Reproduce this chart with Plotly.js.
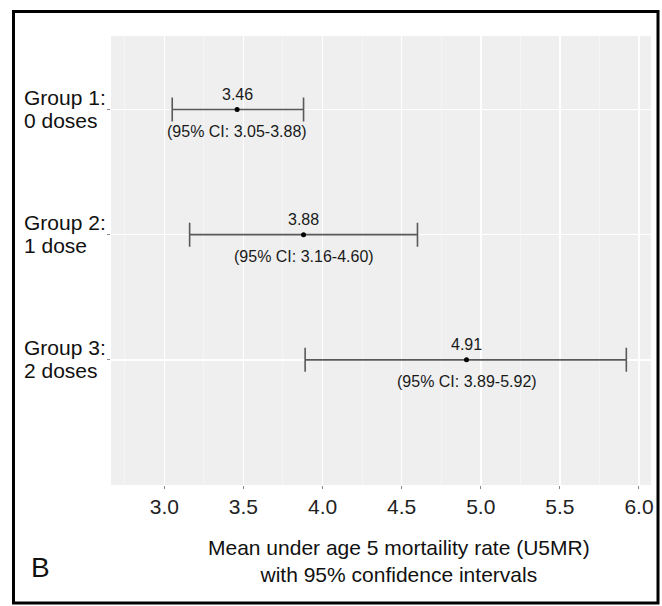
<!DOCTYPE html>
<html>
<head>
<meta charset="utf-8">
<script src="https://cdn.plot.ly/plotly-3.0.1.min.js"></script>
<style>html,body{margin:0;padding:0;background:#fff;}#chart{width:662px;height:606px;}</style>
</head>
<body>
<div id="chart"></div>
<script>
// ---- data ----
const groupLabels = ["Group 1:\n0 doses", "Group 2:\n1 dose", "Group 3:\n2 doses"];
const groupPos = [3, 2, 1];
const means = [3.46, 3.88, 4.91];
const ciLow = [3.05, 3.16, 3.89];
const ciHigh = [3.88, 4.60, 5.92];
const xTicks = [3.0, 3.5, 4.0, 4.5, 5.0, 5.5, 6.0];
const xTickText = ["3.0", "3.5", "4.0", "4.5", "5.0", "5.5", "6.0"];
const axisTitle = "Mean under age 5 mortaility rate (U5MR)<br>with 95% confidence intervals";
const panelLetter = "B";

// ---- layout geometry ----
const W = 662, H = 606;
const M = {l: 111, r: 11, t: 36, b: 121};
const PW = W - M.l - M.r, PH = H - M.t - M.b;
const px = v => (v - M.l) / PW;
const py = v => (H - M.b - v) / PH;
const FONT = "Liberation Sans, Arial, sans-serif";

const trace = {
  type: "scatter",
  mode: "markers",
  x: means,
  y: groupPos,
  marker: {color: "#000", size: 5},
  error_x: {
    type: "data",
    symmetric: false,
    array: means.map((m, i) => ciHigh[i] - m),
    arrayminus: means.map((m, i) => m - ciLow[i]),
    color: "#595959",
    thickness: 1.6,
    width: 12
  },
  hoverinfo: "x+y",
  showlegend: false
};

const annotations = [];
means.forEach((m, i) => {
  annotations.push({x: m, y: groupPos[i], xref: "x", yref: "y", text: m.toFixed(2),
    showarrow: false, yshift: 15, font: {family: FONT, size: 16, color: "#1a1a1a"}});
  annotations.push({x: m, y: groupPos[i], xref: "x", yref: "y",
    text: "(95% CI: " + ciLow[i].toFixed(2) + "-" + ciHigh[i].toFixed(2) + ")",
    showarrow: false, yshift: -22, font: {family: FONT, size: 16, color: "#1a1a1a"}});
  const lines = groupLabels[i].split("\n");
  annotations.push({x: px(22), y: groupPos[i], xref: "paper", yref: "y", text: lines[0],
    showarrow: false, xanchor: "left", yanchor: "middle", yshift: 12,
    font: {family: FONT, size: 21, color: "#111"}});
  annotations.push({x: px(22), y: groupPos[i], xref: "paper", yref: "y", text: lines[1],
    showarrow: false, xanchor: "left", yanchor: "middle", yshift: -11,
    font: {family: FONT, size: 21, color: "#111"}});
});
annotations.push({x: px(399), y: py(561), xref: "paper", yref: "paper", text: axisTitle,
  showarrow: false, xanchor: "center", yanchor: "middle", align: "center",
  font: {family: FONT, size: 21, color: "#111"}});
annotations.push({x: px(29), y: py(567), xref: "paper", yref: "paper", text: panelLetter,
  showarrow: false, xanchor: "left", yanchor: "middle",
  font: {family: FONT, size: 28, color: "#111"}});

const layout = {
  width: W, height: H,
  margin: M,
  paper_bgcolor: "#fff",
  plot_bgcolor: "#efefef",
  font: {family: FONT},
  xaxis: {
    range: [2.663, 6.076],
    tickmode: "array", tickvals: xTicks, ticktext: xTickText,
    ticks: "outside", ticklen: 3, tickwidth: 1, tickcolor: "#888",
    tickfont: {family: FONT, size: 21, color: "#222"},
    showgrid: true, gridcolor: "#ffffff", gridwidth: 1.5,
    minor: {dtick: 0.5, tick0: 2.75, showgrid: true, gridcolor: "#f6f6f6", gridwidth: 0.8, ticks: ""},
    zeroline: false, showline: false, fixedrange: true
  },
  yaxis: {
    range: [0, 3.587],
    tickmode: "array", tickvals: groupPos, ticktext: ["", "", ""],
    showticklabels: false,
    ticks: "outside", ticklen: 3, tickwidth: 1, tickcolor: "#888",
    showgrid: true, gridcolor: "#ffffff", gridwidth: 1.5,
    zeroline: false, showline: false, fixedrange: true
  },
  annotations: annotations,
  shapes: [{type: "rect", xref: "paper", yref: "paper",
    x0: px(13.5), x1: px(658), y0: py(603), y1: py(11.5),
    line: {color: "#000", width: 3}, fillcolor: "rgba(0,0,0,0)", layer: "above"}]
};

Plotly.newPlot("chart", [trace], layout, {displayModeBar: false, staticPlot: true});
</script>
</body>
</html>
